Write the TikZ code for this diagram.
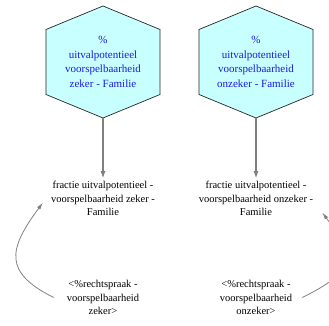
\documentclass[tikz,border=0pt]{standalone}
\usepackage{fontspec}
\setmainfont{Liberation Serif}
\usetikzlibrary{arrows.meta, positioning, calc, backgrounds}
\definecolor{hexfill}{HTML}{C8FFFF}
\definecolor{hexink}{HTML}{1A1AE6}
\definecolor{flow}{HTML}{808080}

\begin{document}
\begin{tikzpicture}[x=1pt, y=1pt,
    hexbox/.style={minimum width=114pt, minimum height=112pt, inner sep=0pt, align=center, text=hexink, font=\fontsize{11}{14.5}\selectfont},
    hexline/.style={draw=black!85, fill=hexfill, line width=0.7pt},
    varbox/.style={align=center, inner sep=3pt, font=\fontsize{10.5}{13.5}\selectfont},
    link/.style={-{Latex[length=7pt, width=5pt]}, color=flow, line width=1.1pt},
    backlink/.style={-{Latex[length=7pt, width=4pt]}, color=flow, line width=0.8pt}]
    \useasboundingbox (0,0) rectangle (329,326);
    \node[hexbox] (hexL) at (103,264) {\%\\uitvalpotentieel\\voorspelbaarheid\\zeker - Familie};
    \node[hexbox] (hexR) at (256,264) {\%\\uitvalpotentieel\\voorspelbaarheid\\onzeker - Familie};
    \node[varbox, below=60pt of hexL] (midL) {fractie uitvalpotentieel -\\voorspelbaarheid zeker -\\Familie};
    \node[varbox, below=60pt of hexR] (midR) {fractie uitvalpotentieel -\\voorspelbaarheid onzeker -\\Familie};
    \node[varbox, below=58pt of midL] (lowL) {<\%rechtspraak -\\voorspelbaarheid\\zeker>};
    \node[varbox, below=58pt of midR] (lowR) {<\%rechtspraak -\\voorspelbaarheid\\onzeker>};
    % hexagon outlines behind the text
    \begin{scope}[on background layer]
      \foreach \h in {hexL, hexR}
        \draw[hexline] ($(\h)+(0,56)$) -- ($(\h)+(57,32.5)$) -- ($(\h)+(57,-32.5)$) -- ($(\h)+(0,-56)$) -- ($(\h)+(-57,-32.5)$) -- ($(\h)+(-57,32.5)$) -- cycle;
    \end{scope}
    \draw[link] (hexL) -- (midL);
    \draw[link] (hexR) -- (midR);
    \draw[backlink] ([xshift=-10pt]lowL.west) .. controls +(-50,25) and +(-35,-47) .. ([xshift=-5pt, yshift=-4pt]midL.west);
    \draw[backlink] ([xshift=7pt]lowR.east) .. controls +(50,25) and +(35,-47) .. ([xshift=6pt, yshift=-14pt]midR.east);
\end{tikzpicture}
\end{document}
